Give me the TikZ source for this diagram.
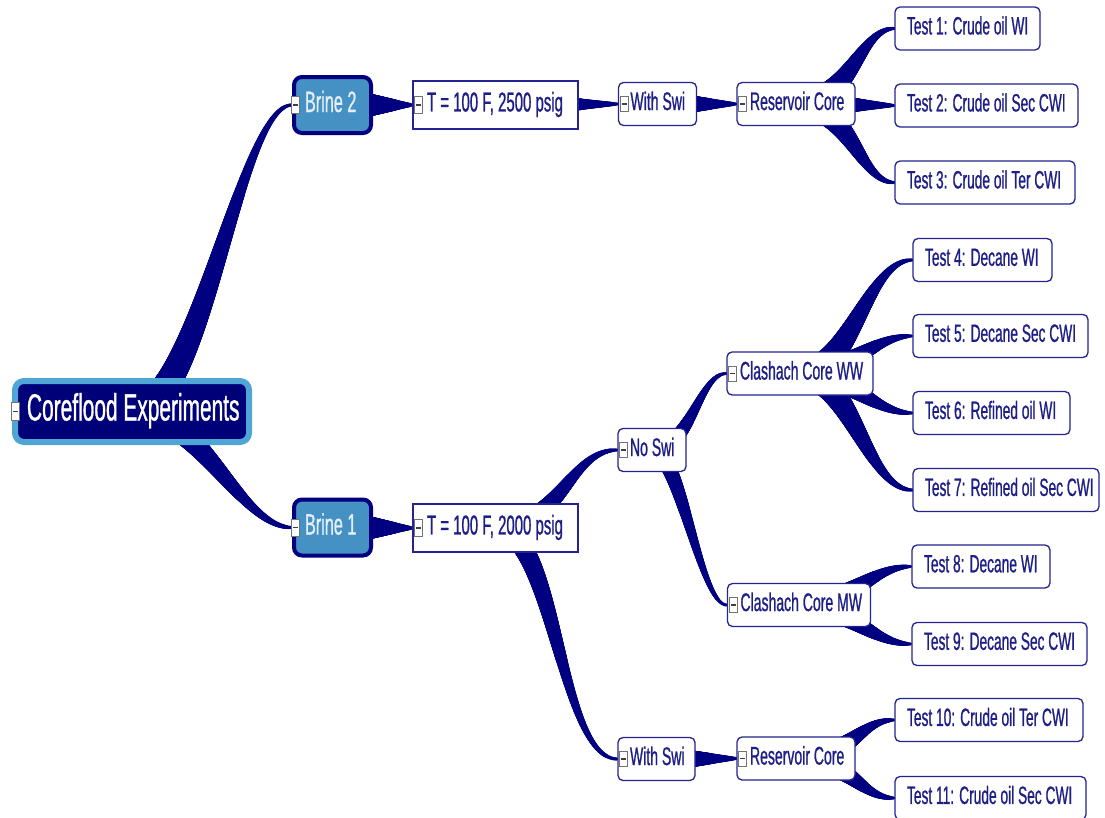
\documentclass[tikz,border=0pt]{standalone}
\usepackage{fontspec}
\setmainfont{Liberation Sans}[FakeStretch=0.55,FakeBold=0.8]
\usetikzlibrary{decorations.markings,backgrounds}
\definecolor{branchcol}{RGB}{0,0,128}
\definecolor{boxcol}{RGB}{35,35,145}
\definecolor{txtcol}{RGB}{30,30,135}
\definecolor{brinefill}{RGB}{70,145,195}
\definecolor{brinetxt}{RGB}{228,238,248}
\definecolor{rootborder}{RGB}{80,165,215}
\definecolor{rootfill}{RGB}{0,0,120}
\newcommand\mmtext[3]{\makebox[#1pt][l]{\hspace*{#2pt}\rule[-0.25em]{0pt}{0.966em}#3}}
\tikzset{
  mmbox/.style={rectangle, rounded corners=5pt, draw=boxcol, line width=1.3pt, fill=white, text=txtcol,
    inner sep=0pt, minimum height=43pt, font=\fontsize{25.5}{28}\selectfont},
  testbox/.style={mmbox, font=\fontsize{25}{28}\selectfont},
  tbox/.style={mmbox, sharp corners, minimum height=48pt, font=\fontsize{27.2}{30}\selectfont},
  brinebox/.style={rectangle, rounded corners=8pt, draw=branchcol, line width=4pt, fill=brinefill, text=brinetxt,
    inner sep=0pt, minimum height=56pt, font=\fontsize{29.5}{32}\selectfont},
  rootbox/.style={rectangle, rounded corners=9pt, draw=rootborder, line width=6pt, fill=rootfill, text=white,
    inner sep=0pt, minimum height=61pt, font=\fontsize{38}{42}\selectfont},
  mmicon/.style={rectangle, draw=black!55, fill=white, line width=0.9pt, minimum width=8pt, minimum height=15pt,
    inner sep=0pt, path picture={\draw[black!75, line width=1.6pt]
      ([xshift=-2.4pt]path picture bounding box.center) -- ([xshift=2.4pt]path picture bounding box.center);}},
  branch/.style 2 args={
    decoration={markings,
      mark=between positions 0 and 1 step 0.6pt with {
        \pgfmathsetmacro\brw{(#1+(#2-#1)*\pgfkeysvalueof{/pgf/decoration/mark info/distance from start}/\pgfdecoratedpathlength)/2}
        \fill[branchcol] (0,0) circle[radius=\brw pt];
      }},
    decorate}
}
\begin{document}
\begin{tikzpicture}[x=1pt,y=-1pt]
\useasboundingbox (0,0) rectangle (1105,817);
% nodes
\node[rootbox] (root) at (132,411.5) {\mmtext{234}{12}{Coreflood Experiments}};
\node[brinebox] (brine2) at (332.5,105) {\mmtext{77}{11}{Brine 2}};
\node[brinebox] (brine1) at (332.5,527.5) {\mmtext{77}{11}{Brine 1}};
\node[tbox] (t2500) at (495.5,105) {\mmtext{165}{14}{T = 100 F, 2500 psig}};
\node[tbox] (t2000) at (495.5,528) {\mmtext{165}{14}{T = 100 F, 2000 psig}};
\node[mmbox] (swiA) at (657.5,104) {\mmtext{78}{12}{With Swi}};
\node[mmbox] (resA) at (796,104) {\mmtext{118}{13}{Reservoir Core}};
\node[mmbox] (noswi) at (652,450) {\mmtext{68}{12}{No Swi}};
\node[mmbox] (ww) at (800,373.5) {\mmtext{146}{13}{Clashach Core WW}};
\node[mmbox] (mw) at (799,605) {\mmtext{143}{13}{Clashach Core MW}};
\node[mmbox] (swiB) at (656.5,759) {\mmtext{77}{12}{With Swi}};
\node[mmbox] (resB) at (796,758.5) {\mmtext{118}{13}{Reservoir Core}};
\node[testbox] (test1) at (967.5,28.5) {\mmtext{145}{12}{Test 1: Crude oil WI}};
\node[testbox] (test2) at (986.5,105.5) {\mmtext{183}{12}{Test 2: Crude oil Sec CWI}};
\node[testbox] (test3) at (985,182.5) {\mmtext{180}{12}{Test 3: Crude oil Ter CWI}};
\node[testbox] (test4) at (982.5,260) {\mmtext{139}{12}{Test 4: Decane WI}};
\node[testbox] (test5) at (1000.5,336) {\mmtext{175}{12}{Test 5: Decane Sec CWI}};
\node[testbox] (test6) at (991.5,413) {\mmtext{157}{12}{Test 6: Refined oil WI}};
\node[testbox] (test7) at (1006,490) {\mmtext{186}{12}{Test 7: Refined oil Sec CWI}};
\node[testbox] (test8) at (981,566.5) {\mmtext{138}{12}{Test 8: Decane WI}};
\node[testbox] (test9) at (999.5,644) {\mmtext{175}{12}{Test 9: Decane Sec CWI}};
\node[testbox] (test10) at (989,720) {\mmtext{188}{12}{Test 10: Crude oil Ter CWI}};
\node[testbox] (test11) at (990.5,798) {\mmtext{191}{12}{Test 11: Crude oil Sec CWI}};
% collapse icons
\node[mmicon, minimum height=18pt] (i-root) at ([xshift=3.5pt]root.west) {};
\node[mmicon, minimum height=17pt] (i-brine2) at ([xshift=3.5pt]brine2.west) {};
\node[mmicon, minimum height=17pt] (i-brine1) at ([xshift=3.5pt]brine1.west) {};
\node[mmicon, minimum height=17pt] (i-t2500) at ([xshift=6pt]t2500.west) {};
\node[mmicon, minimum height=17pt] (i-t2000) at ([xshift=6pt]t2000.west) {};
\node[mmicon] (i-swiA) at ([xshift=6.5pt]swiA.west) {};
\node[mmicon] (i-resA) at ([xshift=6.5pt]resA.west) {};
\node[mmicon] (i-noswi) at ([xshift=6.5pt]noswi.west) {};
\node[mmicon] (i-ww) at ([xshift=6.5pt]ww.west) {};
\node[mmicon] (i-mw) at ([xshift=6.5pt]mw.west) {};
\node[mmicon] (i-swiB) at ([xshift=6.5pt]swiB.west) {};
\node[mmicon] (i-resB) at ([xshift=6.5pt]resB.west) {};
% branches
\begin{scope}[on background layer]
\path[branch={30}{3}] (root.center) .. controls +(68,0) and +(-52,0) .. (brine2.west);
\path[branch={30}{3}] (root.center) .. controls +(68,0) and +(-52,0) .. (brine1.west);
\path[branch={40}{3}] (brine2.center) -- (t2500.west);
\path[branch={40}{3}] (brine1.center) -- (t2000.west);
\path[branch={31}{3}] (t2500.center) -- (swiA.west);
\path[branch={28}{3}] (swiA.center) -- (resA.west);
\path[branch={30}{3}] (resA.center) .. controls +(54,0) and +(-35,0) .. (test1.west);
\path[branch={30}{3}] (resA.center) -- (test2.west);
\path[branch={30}{3}] (resA.center) .. controls +(54,0) and +(-35,0) .. (test3.west);
\path[branch={25}{3}] (t2000.center) .. controls +(65,0) and +(-48,0) .. (noswi.west);
\path[branch={22}{3}] (t2000.center) .. controls +(60,0) and +(-58,0) .. (swiB.west);
\path[branch={18}{3}] (noswi.center) .. controls +(38,0) and +(-27,0) .. (ww.west);
\path[branch={17}{3}] (noswi.center) .. controls +(28,0) and +(-27,0) .. (mw.west);
\path[branch={30}{3}] (ww.center) .. controls +(50,0) and +(-45,0) .. (test4.west);
\path[branch={30}{3}] (ww.center) .. controls +(50,0) and +(-40,0) .. (test5.west);
\path[branch={30}{3}] (ww.center) .. controls +(50,0) and +(-40,0) .. (test6.west);
\path[branch={30}{3}] (ww.center) .. controls +(50,0) and +(-45,0) .. (test7.west);
\path[branch={30}{3}] (mw.center) .. controls +(50,0) and +(-40,0) .. (test8.west);
\path[branch={30}{3}] (mw.center) .. controls +(50,0) and +(-40,0) .. (test9.west);
\path[branch={28}{3}] (swiB.center) -- (resB.west);
\path[branch={30}{3}] (resB.center) .. controls +(54,0) and +(-35,0) .. (test10.west);
\path[branch={30}{3}] (resB.center) .. controls +(54,0) and +(-35,0) .. (test11.west);
\end{scope}
\end{tikzpicture}
\end{document}
